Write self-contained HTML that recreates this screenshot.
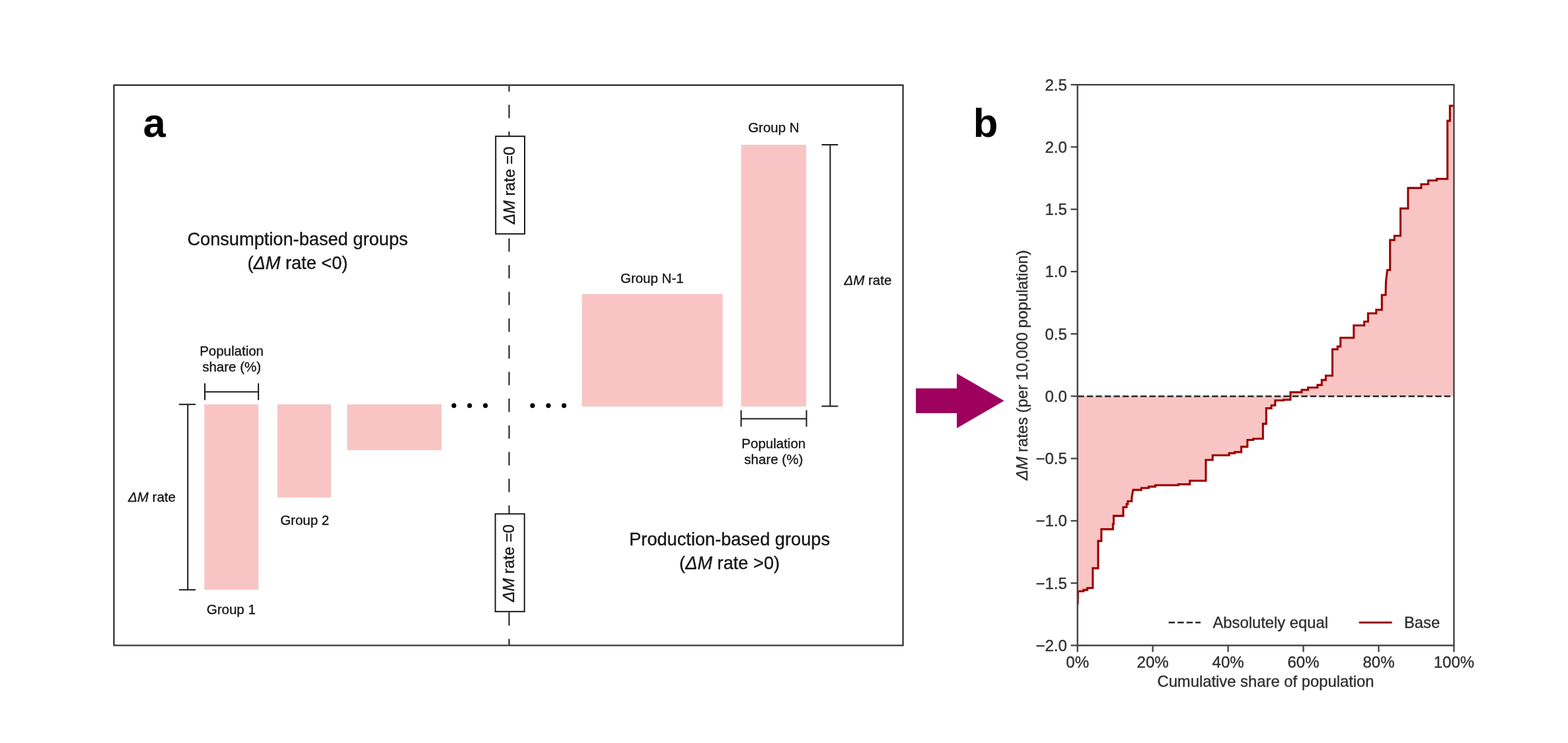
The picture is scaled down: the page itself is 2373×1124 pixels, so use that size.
<!DOCTYPE html>
<html lang="en">
<head>
<meta charset="utf-8">
<title>Figure: from group bars to cumulative-share curve</title>
<style>
html,body{margin:0;padding:0;background:#fff;}
body{width:2373px;height:1124px;overflow:hidden;}
svg{display:block;}
text{font-family:"Liberation Sans",sans-serif;stroke-width:0.35px;stroke-linejoin:round;}
.s{font-size:20.5px;fill:#161616;stroke:#161616;}
.m{font-size:27.2px;fill:#161616;stroke:#161616;}
.bx{font-size:23.8px;fill:#161616;stroke:#161616;}
.t{font-size:23.8px;fill:#2e2e2e;stroke:#2e2e2e;}
.tl{font-size:24.05px;}
.pl{font-size:61.5px;font-weight:bold;fill:#000;stroke:none;}
.i{font-style:italic;}
.br{stroke:#1a1a1a;stroke-width:2;fill:none;}
.sp{stroke:#424242;stroke-width:2.4;fill:none;}
.tk{stroke:#424242;stroke-width:2.3;fill:none;}
</style>
</head>
<body>
<svg width="2373" height="1124" viewBox="0 0 2373 1124">
<rect x="0" y="0" width="2373" height="1124" fill="#fff"/>
<g id="panel-a">
<rect x="309.2" y="611.7" width="82.0" height="280.5" fill="#f8c5c4"/>
<rect x="419.9" y="611.7" width="81.1" height="140.9" fill="#f8c5c4"/>
<rect x="525.3" y="611.7" width="142.8" height="69.3" fill="#f8c5c4"/>
<rect x="880.7" y="445.0" width="213.1" height="170.0" fill="#f8c5c4"/>
<rect x="1121.6" y="219.0" width="98.5" height="396.0" fill="#f8c5c4"/>
<line x1="770.5" y1="128.7" x2="770.5" y2="976.4" stroke="#1a1a1a" stroke-width="2" stroke-dasharray="20.2 20.2" stroke-dashoffset="10.5"/>
<rect x="750.2" y="206.2" width="43.8" height="147.6" fill="#fff" stroke="#1a1a1a" stroke-width="2"/>
<text class="bx" text-anchor="middle" transform="translate(778.7 280.4) rotate(-90)"><tspan class="i">ΔM</tspan> rate =0</text>
<rect x="749.6" y="777.4" width="44.1" height="147.8" fill="#fff" stroke="#1a1a1a" stroke-width="2"/>
<text class="bx" text-anchor="middle" transform="translate(778.3 851.8) rotate(-90)"><tspan class="i">ΔM</tspan> rate =0</text>
<rect x="172.4" y="128.7" width="1194.2" height="847.7" fill="none" stroke="#383838" stroke-width="2.4" stroke-linejoin="round"/>
<text class="pl" x="216.6" y="207">a</text>
<text class="m" text-anchor="middle" x="450.4" y="371.1">Consumption-based groups</text>
<text class="m" text-anchor="middle" x="450.4" y="406.5">(<tspan class="i">ΔM</tspan> rate &lt;0)</text>
<text class="m" text-anchor="middle" x="1104.1" y="825.0">Production-based groups</text>
<text class="m" text-anchor="middle" x="1104.1" y="860.6">(<tspan class="i">ΔM</tspan> rate &gt;0)</text>
<text class="s" text-anchor="middle" x="350.6" y="538.1">Population</text>
<text class="s" text-anchor="middle" x="350.6" y="561.9">share (%)</text>
<text class="s" text-anchor="middle" x="1170.8" y="677.9">Population</text>
<text class="s" text-anchor="middle" x="1170.8" y="701.5">share (%)</text>
<text class="s" text-anchor="middle" x="349.8" y="929">Group 1</text>
<text class="s" text-anchor="middle" x="461.2" y="794.2">Group 2</text>
<text class="s" text-anchor="middle" x="986.8" y="427.5">Group N-1</text>
<text class="s" text-anchor="middle" x="1170.9" y="199.8">Group N</text>
<text class="s" text-anchor="middle" x="230" y="758.7"><tspan class="i">ΔM</tspan> rate</text>
<text class="s" text-anchor="middle" x="1313.4" y="430.8"><tspan class="i">ΔM</tspan> rate</text>
<path class="br" d="M284.2 611.7V892.2M270.8 611.7H296M270.8 892.2H296"/>
<path class="br" d="M310 592.8H391.1M310 579.7V605.3M391.1 579.7V605.3"/>
<path class="br" d="M1256.4 219.1V614.4M1243.5 219.1H1268.3M1243.5 614.4H1268.3"/>
<path class="br" d="M1121.6 633.5H1220.5M1121.6 620.5V645.6M1220.5 620.5V645.6"/>
<circle cx="686.9" cy="613.6" r="3.6" fill="#000"/>
<circle cx="710.7" cy="613.6" r="3.6" fill="#000"/>
<circle cx="734.6" cy="613.6" r="3.6" fill="#000"/>
<circle cx="805.9" cy="613.6" r="3.6" fill="#000"/>
<circle cx="829.9" cy="613.6" r="3.6" fill="#000"/>
<circle cx="853.6" cy="613.6" r="3.6" fill="#000"/>
</g>
<polygon points="1386.1,587.4 1448,587.4 1448,564.9 1519.7,606.2 1448,647.8 1448,625 1386.1,625" fill="#9e005d"/>
<g id="panel-b">
<clipPath id="axclip"><rect x="1630.7" y="128.2" width="569.7" height="848.2"/></clipPath>
<text class="pl" x="1472.7" y="206.9">b</text>
<polygon points="1630.7,599.4 1631.0,914.4 1631.5,894.5 1639.9,894.5 1639.9,892.4 1645.6,892.4 1645.6,889.5 1653.8,889.5 1653.8,859.6 1661.9,859.6 1661.9,818.4 1666.8,818.4 1666.8,800.6 1684.3,800.6 1684.3,792.7 1685.4,792.7 1685.4,780.4 1699.9,780.4 1699.9,767.3 1705.0,767.3 1705.0,762.5 1706.8,762.5 1706.8,758.2 1712.8,758.2 1712.8,752.5 1714.9,741.1 1727.3,741.1 1727.3,738.3 1738.4,738.3 1738.4,736.1 1748.4,736.1 1748.4,734.0 1783.2,734.0 1783.2,732.6 1800.7,732.6 1800.7,727.3 1824.9,727.3 1824.9,695.8 1835.2,695.8 1835.2,688.7 1860.1,688.7 1860.1,685.6 1868.6,685.6 1868.6,683.9 1878.6,683.9 1878.6,675.9 1887.8,675.9 1887.8,665.5 1896.8,665.5 1896.8,663.8 1911.3,663.8 1911.3,641.1 1916.3,641.1 1916.3,617.6 1924.1,617.6 1924.1,613.3 1929.8,613.3 1929.8,605.8 1942.6,605.8 1942.6,604.8 1953.0,604.8 1953.0,593.4 1970.0,593.4 1970.0,589.8 1979.6,589.8 1979.6,586.3 1993.9,586.3 1993.9,582.4 2000.3,582.4 2000.3,574.9 2006.4,574.9 2006.4,568.2 2016.5,568.2 2016.5,528.4 2024.2,528.4 2024.2,524.1 2028.7,524.1 2028.7,511.0 2048.8,511.0 2048.8,492.2 2064.7,492.2 2064.7,486.5 2070.4,486.5 2070.4,474.0 2082.8,474.0 2082.8,468.6 2091.3,468.6 2091.3,446.3 2097.0,446.3 2097.5,425.6 2099.6,408.5 2103.7,408.5 2103.7,363.1 2110.3,363.1 2110.3,356.7 2119.5,356.7 2119.5,315.4 2130.9,315.4 2130.9,284.4 2150.9,284.4 2150.9,278.7 2161.5,278.7 2161.5,273.0 2174.3,273.0 2174.3,270.6 2190.6,270.6 2190.6,182.9 2194.3,182.9 2194.3,160.1 2199.6,160.1 2200.4,160.1 2200.4,599.4" fill="#f8c5c4" clip-path="url(#axclip)"/>
<line x1="1630.7" y1="599.4" x2="2200.4" y2="599.4" stroke="#262626" stroke-width="2.5" stroke-dasharray="9.42 4.1" stroke-dashoffset="-0.6"/>
<polyline points="1631.0,914.4 1631.5,894.5 1639.9,894.5 1639.9,892.4 1645.6,892.4 1645.6,889.5 1653.8,889.5 1653.8,859.6 1661.9,859.6 1661.9,818.4 1666.8,818.4 1666.8,800.6 1684.3,800.6 1684.3,792.7 1685.4,792.7 1685.4,780.4 1699.9,780.4 1699.9,767.3 1705.0,767.3 1705.0,762.5 1706.8,762.5 1706.8,758.2 1712.8,758.2 1712.8,752.5 1714.9,741.1 1727.3,741.1 1727.3,738.3 1738.4,738.3 1738.4,736.1 1748.4,736.1 1748.4,734.0 1783.2,734.0 1783.2,732.6 1800.7,732.6 1800.7,727.3 1824.9,727.3 1824.9,695.8 1835.2,695.8 1835.2,688.7 1860.1,688.7 1860.1,685.6 1868.6,685.6 1868.6,683.9 1878.6,683.9 1878.6,675.9 1887.8,675.9 1887.8,665.5 1896.8,665.5 1896.8,663.8 1911.3,663.8 1911.3,641.1 1916.3,641.1 1916.3,617.6 1924.1,617.6 1924.1,613.3 1929.8,613.3 1929.8,605.8 1942.6,605.8 1942.6,604.8 1953.0,604.8 1953.0,593.4 1970.0,593.4 1970.0,589.8 1979.6,589.8 1979.6,586.3 1993.9,586.3 1993.9,582.4 2000.3,582.4 2000.3,574.9 2006.4,574.9 2006.4,568.2 2016.5,568.2 2016.5,528.4 2024.2,528.4 2024.2,524.1 2028.7,524.1 2028.7,511.0 2048.8,511.0 2048.8,492.2 2064.7,492.2 2064.7,486.5 2070.4,486.5 2070.4,474.0 2082.8,474.0 2082.8,468.6 2091.3,468.6 2091.3,446.3 2097.0,446.3 2097.5,425.6 2099.6,408.5 2103.7,408.5 2103.7,363.1 2110.3,363.1 2110.3,356.7 2119.5,356.7 2119.5,315.4 2130.9,315.4 2130.9,284.4 2150.9,284.4 2150.9,278.7 2161.5,278.7 2161.5,273.0 2174.3,273.0 2174.3,270.6 2190.6,270.6 2190.6,182.9 2194.3,182.9 2194.3,160.1 2199.6,160.1" fill="none" stroke="#9c0000" stroke-width="3.1" stroke-linejoin="miter" stroke-linecap="butt" clip-path="url(#axclip)"/>
<rect class="sp" x="1630.7" y="128.2" width="569.7" height="848.2"/>
<text class="t tl" text-anchor="end" x="1614.9" y="136.6">2.5</text>
<text class="t tl" text-anchor="end" x="1614.9" y="230.8">2.0</text>
<text class="t tl" text-anchor="end" x="1614.9" y="325.1">1.5</text>
<text class="t tl" text-anchor="end" x="1614.9" y="419.3">1.0</text>
<text class="t tl" text-anchor="end" x="1614.9" y="513.6">0.5</text>
<text class="t tl" text-anchor="end" x="1614.9" y="607.8">0.0</text>
<text class="t tl" text-anchor="end" x="1614.9" y="702.1">−0.5</text>
<text class="t tl" text-anchor="end" x="1614.9" y="796.3">−1.0</text>
<text class="t tl" text-anchor="end" x="1614.9" y="890.6">−1.5</text>
<text class="t tl" text-anchor="end" x="1614.9" y="984.8">−2.0</text>
<text class="t tl" text-anchor="middle" x="1630.7" y="1009.7">0%</text>
<text class="t tl" text-anchor="middle" x="1744.6" y="1009.7">20%</text>
<text class="t tl" text-anchor="middle" x="1858.6" y="1009.7">40%</text>
<text class="t tl" text-anchor="middle" x="1972.5" y="1009.7">60%</text>
<text class="t tl" text-anchor="middle" x="2086.5" y="1009.7">80%</text>
<text class="t tl" text-anchor="middle" x="2200.4" y="1009.7">100%</text>
<path class="tk" d="M1620.5 128.2H1630.7M1620.5 222.4H1630.7M1620.5 316.7H1630.7M1620.5 410.9H1630.7M1620.5 505.2H1630.7M1620.5 599.4H1630.7M1620.5 693.7H1630.7M1620.5 787.9H1630.7M1620.5 882.2H1630.7M1620.5 976.4H1630.7M1630.7 976.4V986.2M1744.6 976.4V986.2M1858.6 976.4V986.2M1972.5 976.4V986.2M2086.5 976.4V986.2M2200.4 976.4V986.2"/>
<text class="t" text-anchor="middle" x="1915.5" y="1038.6">Cumulative share of population</text>
<text class="t" text-anchor="middle" transform="translate(1554.8 552.4) rotate(-90)"><tspan class="i">ΔM</tspan> rates (per 10,000 population)</text>
<line x1="1768.6" y1="941.8" x2="1816.9" y2="941.8" stroke="#262626" stroke-width="2.4" stroke-dasharray="9.42 4.1"/>
<text class="t" x="1835.4" y="950">Absolutely equal</text>
<line x1="2058" y1="941.8" x2="2105.5" y2="941.8" stroke="#9c0000" stroke-width="3.1" stroke-linecap="round"/>
<text class="t" x="2125" y="950">Base</text>
</g>
</svg>
</body>
</html>
